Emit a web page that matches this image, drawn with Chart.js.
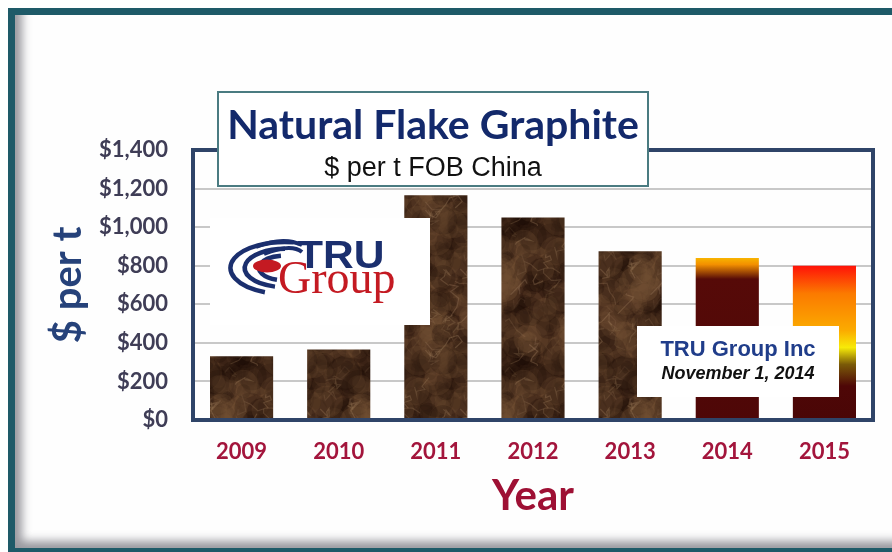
<!DOCTYPE html>
<html>
<head>
<meta charset="utf-8">
<script src="https://cdn.jsdelivr.net/npm/chart.js@4"></script>
<style>
html, body { margin: 0; padding: 0; background: #fff; overflow: hidden; }
#frame {
  position: absolute; left: 8px; top: 8px; width: 900px; height: 533px;
  border: 7px solid #1e5a68; background: #fefefe;
  box-shadow: inset 10px -10px 10px -3px rgba(70, 70, 80, 0.55);
}
#myChart { position: absolute; left: 0; top: 0; }
</style>
</head>
<body>
<div id="frame"></div>
<canvas id="myChart" width="892" height="552"></canvas>
<script>
const years = ["2009", "2010", "2011", "2012", "2013", "2014", "2015"];
const prices = [330, 365, 1165, 1050, 875, 840, 800];
const yTickValues = [0, 200, 400, 600, 800, 1000, 1200, 1400];
const yTickLabels = ["$0", "$200", "$400", "$600", "$800", "$1,000", "$1,200", "$1,400"];

// brown marble texture for the historic bars
function seeded(s) {
  return function () {
    s = (s + 0x6d2b79f5) | 0;
    let t = Math.imul(s ^ (s >>> 15), 1 | s);
    t = (t + Math.imul(t ^ (t >>> 7), 61 | t)) ^ t;
    return ((t ^ (t >>> 14)) >>> 0) / 4294967296;
  };
}
function marble() {
  const N = 140;
  const c = document.createElement("canvas");
  c.width = N; c.height = N;
  const g = c.getContext("2d");
  const rnd = seeded(7);
  g.fillStyle = "#44291a";
  g.fillRect(0, 0, N, N);
  const wrap = [-N, 0, N];
  for (let i = 0; i < 300; i++) {
    const x = rnd() * N, y = rnd() * N, r = 4 + rnd() * 14;
    g.fillStyle = rnd() < 0.5 ? "rgba(25,12,5,0.2)" : "rgba(120,84,55,0.2)";
    wrap.forEach((dx) => wrap.forEach((dy) => {
      g.beginPath(); g.arc(x + dx, y + dy, r, 0, Math.PI * 2); g.fill();
    }));
  }
  g.lineWidth = 1.2;
  for (let i = 0; i < 45; i++) {
    const pts = [[rnd() * N, rnd() * N]];
    for (let k = 0; k < 5; k++) {
      const [px, py] = pts[pts.length - 1];
      pts.push([px + (rnd() - 0.5) * 18, py + (rnd() - 0.5) * 18]);
    }
    g.strokeStyle = "rgba(170,136,102," + (0.1 + rnd() * 0.22) + ")";
    wrap.forEach((dx) => wrap.forEach((dy) => {
      g.beginPath();
      pts.forEach(([px, py], k) => (k ? g.lineTo(px + dx, py + dy) : g.moveTo(px + dx, py + dy)));
      g.stroke();
    }));
  }
  return document.getElementById("myChart").getContext("2d").createPattern(c, "repeat");
}
const stone = marble();

function barFill(context) {
  const i = context.dataIndex;
  if (i < 5) return stone;
  const chart = context.chart;
  const y = chart.scales.y;
  if (!y) return "#4e0707";
  const top = y.getPixelForValue(prices[i]);
  const base = y.getPixelForValue(0);
  const g = chart.ctx.createLinearGradient(0, top, 0, base);
  if (i === 5) {
    g.addColorStop(0, "#f8b400");
    g.addColorStop(0.04, "#f39000");
    g.addColorStop(0.13, "#560a08");
    g.addColorStop(1, "#4e0707");
  } else {
    g.addColorStop(0, "#ff1208");
    g.addColorStop(0.18, "#fb7a00");
    g.addColorStop(0.42, "#fbab00");
    g.addColorStop(0.53, "#f7ea08");
    g.addColorStop(0.64, "#7a5a08");
    g.addColorStop(0.78, "#4e0707");
    g.addColorStop(1, "#4a0606");
  }
  return g;
}

const overlay = {
  id: "overlay",
  afterDatasetsDraw(chart) {
    const ctx = chart.ctx;
    const a = chart.chartArea;
    ctx.save();
    // plot frame
    ctx.strokeStyle = "#2f4468";
    ctx.lineWidth = 4;
    ctx.strokeRect(a.left, a.top, a.right - a.left, a.bottom - a.top);

    // title box
    ctx.fillStyle = "#fff";
    ctx.fillRect(218, 92, 430, 94);
    ctx.strokeStyle = "#4a7b81";
    ctx.lineWidth = 2;
    ctx.strokeRect(218, 92, 430, 94);
    ctx.textAlign = "center";
    ctx.fillStyle = "#13296b";
    ctx.font = "bold 41px Lato";
    ctx.fillText("Natural Flake Graphite", 433, 139);
    ctx.fillStyle = "#111";
    ctx.font = "27px 'Liberation Sans'";
    ctx.fillText("$ per t FOB China", 433, 176);

    // logo
    ctx.fillStyle = "#fff";
    ctx.fillRect(210, 218, 220, 107);
    ctx.strokeStyle = "#1b2f6e";
    ctx.lineWidth = 4.5;
    [[20, 0.6, 1.45], [31, 0.58, 1.5], [42, 0.62, 1.55]].forEach(([r, s, e]) => {
      ctx.beginPath();
      ctx.ellipse(285, 268, r * 1.3, r * 0.62, 0, Math.PI * s, Math.PI * e);
      ctx.stroke();
    });
    ctx.lineWidth = 4;
    [[0, 0], [8, 7]].forEach(([dx, dy]) => {
      ctx.beginPath();
      ctx.moveTo(256 + dx, 247 + dy);
      ctx.quadraticCurveTo(283 + dx, 236 + dy, 302, 245 + dy);
      ctx.stroke();
    });
    ctx.fillStyle = "#c41a22";
    ctx.beginPath();
    ctx.ellipse(267, 266, 14, 6.5, 0, 0, Math.PI * 2);
    ctx.fill();
    ctx.textAlign = "left";
    ctx.fillStyle = "#1b2f6e";
    ctx.font = "bold 38px 'Liberation Sans'";
    ctx.save();
    ctx.translate(297, 268);
    ctx.scale(1.12, 1);
    ctx.fillText("TRU", 0, 0);
    ctx.restore();
    ctx.fillStyle = "#c41a22";
    ctx.font = "46px 'Liberation Serif'";
    ctx.fillText("Group", 278, 293);

    // note box
    ctx.fillStyle = "#fff";
    ctx.fillRect(637, 326, 202, 71);
    ctx.textAlign = "center";
    ctx.fillStyle = "#203d8a";
    ctx.font = "bold 22px 'Liberation Sans'";
    ctx.fillText("TRU Group Inc", 738, 356);
    ctx.fillStyle = "#111";
    ctx.font = "italic bold 18px 'Liberation Sans'";
    ctx.fillText("November 1, 2014", 738, 379);
    ctx.restore();
  }
};

const ctx = document.getElementById("myChart").getContext("2d");
const myChart = new Chart(ctx, {
  type: "bar",
  data: {
    labels: years,
    datasets: [{
      data: prices,
      backgroundColor: barFill,
      borderWidth: 0,
      barPercentage: 0.65,
      categoryPercentage: 1.0,
    }],
  },
  options: {
    responsive: false,
    animation: false,
    layout: { padding: { top: 150, right: 19, left: 0, bottom: 0 } },
    plugins: { legend: { display: false }, tooltip: { enabled: false } },
    scales: {
      x: {
        afterFit: (s) => { s.height = 132; },
        grid: { display: false, drawTicks: false },
        border: { display: false },
        ticks: { color: "#a3153c", font: { family: "Lato", size: 22, weight: "bold" }, padding: 19 },
        title: {
          display: true, text: "Year", color: "#9e1034",
          font: { family: "Lato", size: 42, weight: "bold" },
          padding: { bottom: 30 },
        },
      },
      y: {
        min: 0, max: 1400,
        afterFit: (s) => { s.width = 193; },
        afterBuildTicks: (s) => { s.ticks = yTickValues.map((v) => ({ value: v })); },
        grid: { color: "#c8c8c8", lineWidth: 2, drawTicks: false },
        border: { display: false },
        ticks: {
          color: "#3f3d56", padding: 25,
          font: { family: "Lato", size: 22, weight: "bold" },
          callback: (v) => yTickLabels[yTickValues.indexOf(v)],
        },
        title: {
          display: true, text: "$ per t", color: "#26427a",
          font: { family: "Lato", size: 40, weight: "bold" },
          padding: { top: 44 },
        },
      },
    },
  },
  plugins: [overlay],
});
</script>
</body>
</html>
